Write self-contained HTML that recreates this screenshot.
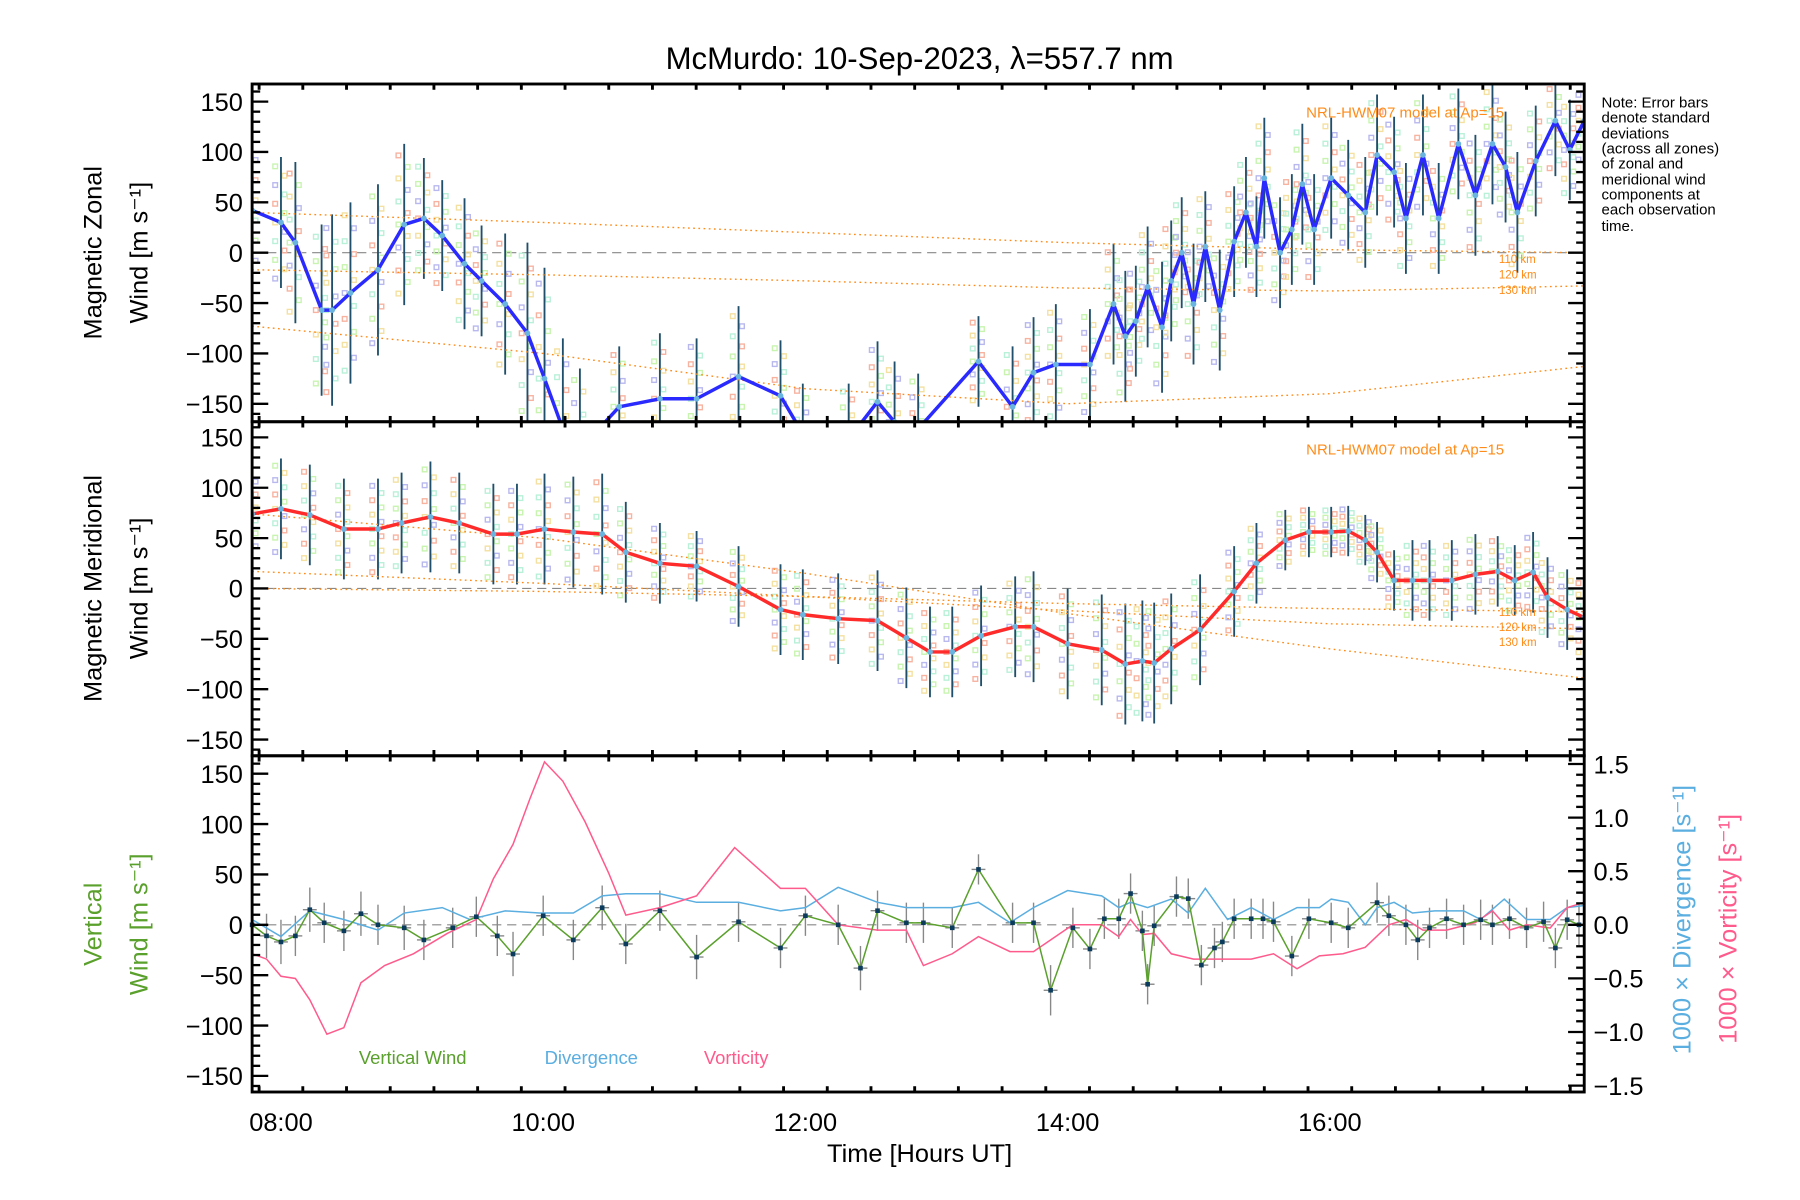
<!DOCTYPE html>
<html><head><meta charset="utf-8"><style>
html,body{margin:0;padding:0;background:#fff}
svg{display:block;font-family:"Liberation Sans",sans-serif}
</style></head><body>
<svg id="chart" xmlns="http://www.w3.org/2000/svg" width="1800" height="1200" viewBox="0 0 1560 1040">
<rect width="1560" height="1040" fill="#fff"/>
<text x="797" y="60" font-size="27" text-anchor="middle">McMurdo: 10-Sep-2023, λ=557.7 nm</text>
<g id="layers"></g>
<g font-size="13" fill="#000">
<text x="1388" y="93">Note: Error bars</text><text x="1388" y="106">denote standard</text><text x="1388" y="120">deviations</text><text x="1388" y="133">(across all zones)</text><text x="1388" y="146">of zonal and</text><text x="1388" y="160">meridional wind</text><text x="1388" y="173">components at</text><text x="1388" y="186">each observation</text><text x="1388" y="200">time.</text>
</g>
</svg>
<script>
// ---- data ----
const zonalTimes=[7.78,8.0,8.11,8.31,8.39,8.53,8.74,8.94,9.09,9.23,9.40,9.53,9.71,9.88,10.01,10.15,10.28,10.58,10.89,11.17,11.49,11.81,11.98,12.33,12.55,12.68,12.86,13.32,13.58,13.74,13.91,14.17,14.35,14.44,14.52,14.61,14.72,14.79,14.87,14.96,15.05,15.16,15.27,15.36,15.44,15.50,15.62,15.71,15.79,15.88,16.01,16.14,16.27,16.36,16.49,16.58,16.71,16.83,16.98,17.11,17.24,17.34,17.43,17.57,17.72,17.83,17.94];
const zonalValues=[42,30,10,-57,-57,-40,-17,28,34,17,-11,-28,-51,-80,-125,-175,-195,-153,-145,-145,-123,-142,-180,-185,-148,-168,-175,-108,-153,-119,-111,-111,-51,-83,-68,-34,-74,-28,0,-51,6,-57,11,40,6,74,0,23,68,23,74,57,40,97,80,34,97,34,108,57,108,85,40,91,131,102,131];
const zonalErr=[70,65,80,85,95,90,85,80,60,55,65,55,70,90,110,90,80,60,65,60,70,55,50,55,60,60,55,45,60,55,60,55,60,65,55,60,65,60,55,60,55,60,55,55,50,60,55,55,60,55,60,55,55,60,55,55,60,55,55,60,60,55,60,55,55,50,45];
const meridTimes=[7.78,8.0,8.22,8.48,8.74,8.92,9.14,9.36,9.62,9.80,10.01,10.23,10.45,10.63,10.89,11.17,11.49,11.81,11.98,12.25,12.55,12.77,12.95,13.12,13.34,13.60,13.74,14.0,14.26,14.44,14.57,14.66,14.79,15.01,15.27,15.44,15.66,15.84,16.01,16.14,16.27,16.36,16.49,16.63,16.76,16.93,17.11,17.28,17.41,17.55,17.66,17.81,17.94];
const meridValues=[74,79,73,59,59,65,71,65,54,54,59,56,54,36,25,22,2,-21,-26,-30,-32,-49,-63,-63,-47,-38,-38,-55,-61,-75,-72,-74,-60,-41,-3,25,48,56,56,57,48,36,8,8,8,8,14,17,8,16,-9,-21,-29];
const meridErr=[45,50,50,50,50,50,55,50,50,50,55,55,60,50,40,35,40,45,45,45,50,50,45,45,50,50,55,55,55,60,60,60,55,55,45,40,30,25,25,25,25,30,30,40,40,40,40,35,35,40,40,40,40];
const vertTimes=[7.78,7.89,8.0,8.11,8.22,8.33,8.48,8.61,8.74,8.94,9.09,9.31,9.49,9.65,9.77,10.0,10.23,10.45,10.63,10.89,11.17,11.49,11.81,12.0,12.25,12.42,12.55,12.77,12.90,13.12,13.32,13.58,13.74,13.87,14.04,14.17,14.28,14.39,14.48,14.57,14.61,14.66,14.83,14.92,15.02,15.12,15.18,15.27,15.40,15.49,15.57,15.71,15.84,16.01,16.14,16.36,16.45,16.58,16.67,16.76,16.89,17.02,17.15,17.24,17.37,17.50,17.63,17.72,17.81,17.90];
const vertValues=[0,-11,-17,-11,15,2,-6,11,0,-3,-15,-3,8,-11,-29,9,-15,17,-19,14,-32,3,-23,9,0,-43,14,2,2,-3,55,2,2,-65,-3,-24,6,6,31,-6,-59,-1,28,26,-40,-23,-17,6,6,6,3,-31,6,2,-3,22,9,0,-15,-3,6,0,5,0,6,-3,3,-23,5,0];
const vertErr=[20,22,22,20,22,20,20,22,20,22,20,20,20,20,22,20,20,22,20,20,22,20,20,20,20,22,20,20,20,20,15,20,20,25,20,20,20,20,20,20,20,20,20,20,20,20,20,20,20,20,20,20,20,20,20,20,20,20,20,20,20,20,20,20,20,20,20,20,20,20];
const dvTimes=[7.78,8.0,8.22,8.48,8.74,8.94,9.23,9.44,9.71,9.97,10.23,10.45,10.63,10.89,11.17,11.49,11.81,12.0,12.25,12.55,12.77,12.90,13.12,13.32,13.56,13.74,14.0,14.26,14.39,14.48,14.61,14.79,14.92,15.05,15.22,15.40,15.57,15.75,15.92,16.01,16.14,16.27,16.36,16.49,16.63,16.80,17.02,17.15,17.33,17.50,17.68,17.81,17.94];
const divValues=[0.05,-0.11,0.13,0.05,-0.05,0.11,0.16,0.05,0.13,0.11,0.11,0.27,0.29,0.29,0.21,0.21,0.13,0.16,0.35,0.21,0.16,0.16,0.16,0.21,0.02,0.16,0.32,0.27,0.16,0.21,0.16,0.24,0.11,0.34,0.05,0.16,0.05,0.16,0.16,0.24,0.21,0,0.16,0.21,0.11,0.13,0.13,0.05,0.24,0.05,0.05,0.16,0.18];
const vortTimes=[7.78,7.89,8.0,8.11,8.22,8.35,8.48,8.61,8.79,9.01,9.27,9.49,9.62,9.77,9.90,10.01,10.15,10.32,10.50,10.63,10.89,11.17,11.46,11.81,12.0,12.25,12.55,12.77,12.90,13.12,13.32,13.56,13.74,14.04,14.26,14.39,14.48,14.57,14.66,14.79,14.96,15.22,15.40,15.57,15.75,15.92,16.10,16.27,16.45,16.58,16.71,16.89,17.11,17.24,17.37,17.50,17.68,17.81,17.94];
const vortValues=[-0.27,-0.32,-0.48,-0.50,-0.70,-1.02,-0.96,-0.54,-0.38,-0.27,-0.08,0.05,0.43,0.75,1.18,1.52,1.34,0.96,0.48,0.09,0.16,0.27,0.72,0.34,0.34,0,-0.05,-0.05,-0.38,-0.27,-0.11,-0.25,-0.25,0,0,-0.11,0.05,-0.09,-0.08,-0.27,-0.32,-0.32,-0.32,-0.27,-0.41,-0.29,-0.27,-0.21,0,0.05,-0.05,-0.05,0.02,0.13,-0.05,0,-0.03,0.16,0.21];
const modelTimes=[7.78,10,12,14,16,17.94];
const zonalModel110=[40,30,20,10,3,0];
const zonalModel120=[-17,-22,-28,-35,-38,-33];
const zonalModel130=[-73,-100,-135,-150,-140,-113];
const meridModel110=[74,50,15,-25,-60,-89];
const meridModel120=[17,5,-8,-22,-35,-40];
const meridModel130=[0,-3,-8,-15,-20,-23];
const xTickHours=[8,10,12,14,16];
const xTickLabels=["08:00","10:00","12:00","14:00","16:00"];
const yTicks=[-150,-100,-50,0,50,100,150];
const rTicks=[-1.5,-1.0,-0.5,0.0,0.5,1.0,1.5];

// ---- layout ----
const NS="http://www.w3.org/2000/svg";
const L=218.5,R=1373,H0=7.78,H1=17.94;
const panels=[{top:72.8,bot:365.5,zero:219},{top:365.5,bot:655,zero:510},{top:655,bot:946.4,zero:801.5}];
const KY=0.873, KR=92.9;
function xS(h){return L+(h-H0)/(H1-H0)*(R-L);}
function yS(p,v){return panels[p].zero-v*KY;}
function yR(v){return 801.5-v*KR;}
const root=document.getElementById('layers');
function mk(tag,attrs,parent){const e=document.createElementNS(NS,tag);for(const k in attrs)e.setAttribute(k,attrs[k]);(parent||root).appendChild(e);return e;}
function pts(ts,vs,f){return ts.map((t,i)=>xS(t).toFixed(1)+','+f(vs[i]).toFixed(1)).join(' ');}

const defs=mk('defs',{});
panels.forEach((p,i)=>{const c=mk('clipPath',{id:'clip'+i},defs);mk('rect',{x:L,y:p.top,width:R-L,height:p.bot-p.top},c);});

panels.forEach((p,i)=>{
  const z=mk('line',{x1:L,x2:R,y1:p.zero,y2:p.zero,stroke:'#888','stroke-dasharray':'8,5','stroke-width':1});
  
  
});

const pastel=['#f7b3a0','#b9f0d8','#b8b8ee','#f4e0a0','#c8f4b0'];
function scatterAndErr(p,ts,vs,es,name){
  const g=mk('g',{'clip-path':'url(#clip'+p+')'});
  
  
  ts.forEach((t,i)=>{
    const x=xS(t);
    for(let k=-6;k<=6;k++){
      const v=vs[i]+k*es[i]/7;
      mk('rect',{x:x-3+((k%2)?4:-4),y:yS(p,v)-2,width:4,height:4,fill:'none',stroke:pastel[(i+k+12)%5],'stroke-width':1.2},g);
    }
  });
  const eg=mk('g',{'clip-path':'url(#clip'+p+')',stroke:'#1f4f6a','stroke-width':1.6});
  
  
  ts.forEach((t,i)=>{const x=xS(t);mk('line',{x1:x,x2:x,y1:yS(p,vs[i]-es[i]),y2:yS(p,vs[i]+es[i])},eg);});
}
scatterAndErr(0,zonalTimes,zonalValues,zonalErr,'zonal');
scatterAndErr(1,meridTimes,meridValues,meridErr,'meridional');

function model(p,vs,name){
  const e=mk('polyline',{points:pts(modelTimes,vs,v=>yS(p,v)),fill:'none',stroke:'#ff8c1a','stroke-width':1.2,'stroke-dasharray':'1.5,3','clip-path':'url(#clip'+p+')'});
  
  
}
model(0,zonalModel110,'zonal-model-110km');model(0,zonalModel120,'zonal-model-120km');model(0,zonalModel130,'zonal-model-130km');
model(1,meridModel110,'meridional-model-110km');model(1,meridModel120,'meridional-model-120km');model(1,meridModel130,'meridional-model-130km');

function mainLine(p,ts,vs,color,name){
  const e=mk('polyline',{points:pts(ts,vs,v=>yS(p,v)),fill:'none',stroke:color,'stroke-width':3,'stroke-linejoin':'round','clip-path':'url(#clip'+p+')'});
  
  
  const g=mk('g',{'clip-path':'url(#clip'+p+')',fill:'#6ab4e0'});
  
  
  ts.forEach((t,i)=>mk('circle',{cx:xS(t),cy:yS(p,vs[i]),r:2.5},g));
}
mainLine(0,zonalTimes,zonalValues,'#2a2aff','zonal-wind-line');
mainLine(1,meridTimes,meridValues,'#ff2a2a','meridional-wind-line');

const vErr=mk('g',{'clip-path':'url(#clip2)',stroke:'#888','stroke-width':1.2});


vertTimes.forEach((t,i)=>{const x=xS(t);mk('line',{x1:x,x2:x,y1:yS(2,vertValues[i]-vertErr[i]),y2:yS(2,vertValues[i]+vertErr[i])},vErr);mk('line',{x1:x-6,x2:x+6,y1:yS(2,vertValues[i]),y2:yS(2,vertValues[i])},vErr);});
const divL=mk('polyline',{points:pts(dvTimes,divValues,yR),fill:'none',stroke:'#5aaee0','stroke-width':1.3,'clip-path':'url(#clip2)'});


const vorL=mk('polyline',{points:pts(vortTimes,vortValues,yR),fill:'none',stroke:'#ff5a8c','stroke-width':1.3,'clip-path':'url(#clip2)'});


const vL=mk('polyline',{points:pts(vertTimes,vertValues,v=>yS(2,v)),fill:'none',stroke:'#5aa02c','stroke-width':1.3,'clip-path':'url(#clip2)'});


const vM=mk('g',{fill:'#0b3b5c'});


vertTimes.forEach((t,i)=>mk('rect',{x:xS(t)-2,y:yS(2,vertValues[i])-2,width:4,height:4},vM));

const ax=mk('g',{stroke:'#000',fill:'none'});


panels.forEach((p,i)=>{
  mk('rect',{x:L,y:p.top,width:R-L,height:p.bot-p.top,'stroke-width':2.5},ax);
  for(let v=-160;v<=160;v+=10){const y=yS(i,v);if(y<p.top||y>p.bot)continue;const len=(v%50===0)?14:7;
    mk('line',{x1:L,x2:L+len,y1:y,y2:y,'stroke-width':2},ax);
    if(i<2)mk('line',{x1:R,x2:R-len,y1:y,y2:y,'stroke-width':2},ax);}
  for(let m=470;m<=1080;m+=20){const h=m/60;if(h<H0||h>H1)continue;const x=xS(h);const big=(m%120===0);
    mk('line',{x1:x,x2:x,y1:p.bot,y2:p.bot-(big?9:5),'stroke-width':big?3:2.5},ax);
    mk('line',{x1:x,x2:x,y1:p.top,y2:p.top+(big?9:5),'stroke-width':big?3:2.5},ax);}
});
for(let k=-17;k<=17;k++){const v=k/10;const y=yR(v);if(y<655||y>946.4)continue;const big=(k%5===0);mk('line',{x1:R,x2:R-(big?14:7),y1:y,y2:y,'stroke-width':2},ax);}

const tl=mk('g',{'font-size':22,fill:'#000'});


panels.forEach((p,i)=>yTicks.forEach(v=>{const t=mk('text',{x:L-8,y:yS(i,v)+8,'text-anchor':'end'},tl);t.textContent=(v<0?'\u2212'+(-v):v);}));
rTicks.forEach(v=>{const t=mk('text',{x:R+8,y:yR(v)+8},tl);t.textContent=(v<0?'\u2212':'')+Math.abs(v).toFixed(1);});
xTickHours.forEach((h,i)=>{const t=mk('text',{x:xS(h),y:980,'text-anchor':'middle'},tl);t.textContent=xTickLabels[i];});

function txt(s,attrs,name){const t=mk('text',attrs);t.textContent=s;return t;}
function rot(s,x,y,color,name,size){return txt(s,{x:x,y:y,transform:'rotate(-90 '+x+' '+y+')','text-anchor':'middle','font-size':size||22,fill:color},name);}
txt('Time [Hours UT]',{x:797,y:1007,'text-anchor':'middle','font-size':22},'x-axis-title');
rot('Magnetic Zonal',88,219,'#000','zonal-y-title-line1');
rot('Wind [m s\u207B\u00B9]',128,219,'#000','zonal-y-title-line2');
rot('Magnetic Meridional',88,510,'#000','meridional-y-title-line1');
rot('Wind [m s\u207B\u00B9]',128,510,'#000','meridional-y-title-line2');
rot('Vertical',88,801,'#5aa02c','vertical-y-title-line1');
rot('Wind [m s\u207B\u00B9]',128,801,'#5aa02c','vertical-y-title-line2');
rot('1000 \u00D7 Divergence [s\u207B\u00B9]',1465,797,'#5aaee0','divergence-axis-title');
rot('1000 \u00D7 Vorticity [s\u207B\u00B9]',1505,805,'#ff5a8c','vorticity-axis-title');
txt('Vertical Wind',{x:311,y:922,'font-size':16,fill:'#5aa02c'},'legend-vertical-wind');
txt('Divergence',{x:472,y:922,'font-size':16,fill:'#5aaee0'},'legend-divergence');
txt('Vorticity',{x:610,y:922,'font-size':16,fill:'#ff5a8c'},'legend-vorticity');
txt('NRL-HWM07 model at Ap=15',{x:1132,y:102,'font-size':13,fill:'#ff8c1a'},'zonal-model-label');
txt('NRL-HWM07 model at Ap=15',{x:1132,y:394,'font-size':13,fill:'#ff8c1a'},'meridional-model-label');
['110 km','120 km','130 km'].forEach((s,i)=>{
  txt(s,{x:1299,y:228+i*13.5,'font-size':10,fill:'#ff8c1a'},'zonal-altitude-label-'+(i+1));
  txt(s,{x:1299,y:534+i*13,'font-size':10,fill:'#ff8c1a'},'meridional-altitude-label-'+(i+1));
});
</script>
</body></html>
